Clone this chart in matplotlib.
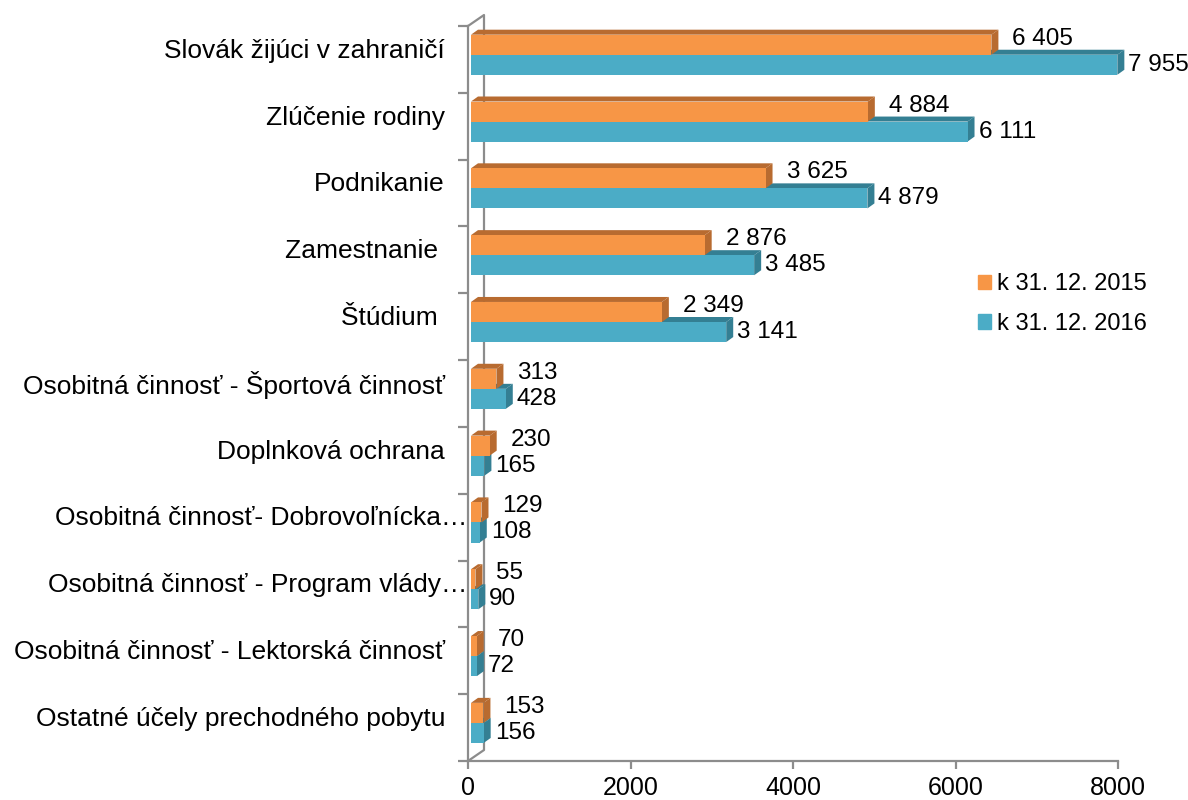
import matplotlib
matplotlib.use('Agg')
import matplotlib.pyplot as plt
from matplotlib.patches import Polygon, Patch

plt.rcParams['font.family'] = ['Liberation Sans', 'DejaVu Sans']

# chart data
categories = [
    "Slovák žijúci v zahraničí",
    "Zlúčenie rodiny",
    "Podnikanie",
    "Zamestnanie ",
    "Štúdium ",
    "Osobitná činnosť - Športová činnosť",
    "Doplnková ochrana",
    "Osobitná činnosť- Dobrovoľnícka…",
    "Osobitná činnosť - Program vlády…",
    "Osobitná činnosť - Lektorská činnosť",
    "Ostatné účely prechodného pobytu",
]
values_2015 = [6405, 4884, 3625, 2876, 2349, 313, 230, 129, 55, 70, 153]
values_2016 = [7955, 6111, 4879, 3485, 3141, 428, 165, 108, 90, 72, 156]
series_labels = ["k 31. 12. 2015", "k 31. 12. 2016"]
x_ticks = [0, 2000, 4000, 6000, 8000]

# colours (office palette)
orange, orange_dark = "#F79646", "#B86B30"
blue, blue_dark = "#4BACC6", "#347F93"
axis_gray = "#8C8C8C"

W, H = 1188, 800
fig = plt.figure(figsize=(W / 100, H / 100), dpi=100)
left, right, top, bottom = 468, 1118, 26, 761
ax = fig.add_axes([left / W, 1 - bottom / H, (right - left) / W, (bottom - top) / H])

n = len(categories)
ax.set_xlim(0, x_ticks[-1])
ax.set_ylim(n - 0.5, -0.5)

# pixel -> data conversion for the fake 3d depth
px_x = x_ticks[-1] / (right - left)
px_y = n / (bottom - top)
dx, dy = 7 * px_x, 5 * px_y
x0 = 3 * px_x   # bars sit a little behind the front axis line
bar_h = 0.30


def bar3d(yc, value, face, dark):
    y0 = yc - bar_h / 2
    y1 = yc + bar_h / 2
    end = x0 + value
    ax.add_patch(Polygon([(x0, y0), (x0 + dx, y0 - dy), (end + dx, y0 - dy), (end, y0)],
                         closed=True, facecolor=dark, edgecolor='none', zorder=2, clip_on=False))
    ax.add_patch(Polygon([(end, y0), (end + dx, y0 - dy), (end + dx, y1 - dy), (end, y1)],
                         closed=True, facecolor=dark, edgecolor='none', zorder=2, clip_on=False))
    ax.barh(yc, value, left=x0, height=bar_h, color=face, edgecolor='none', zorder=2, clip_on=False)


def fmt(v):
    return f"{v:,}".replace(",", " ")


for i, cat in enumerate(categories):
    yc_o = i - 0.22
    yc_b = i + 0.08
    bar3d(yc_b, values_2016[i], blue, blue_dark)
    bar3d(yc_o, values_2015[i], orange, orange_dark)

    ax.annotate(fmt(values_2015[i]), xy=(x0 + values_2015[i], yc_o), xytext=(21, 6),
                textcoords='offset pixels', ha='left', va='center', fontsize=17.5)
    ax.annotate(fmt(values_2016[i]), xy=(x0 + values_2016[i], yc_b), xytext=(11, 0),
                textcoords='offset pixels', ha='left', va='center', fontsize=17.5)

    off = -1 if cat.endswith("…") else -23
    ax.annotate(cat, xy=(0, i - 0.13), xytext=(off, 0), textcoords='offset pixels',
                ha='right', va='center', fontsize=19, annotation_clip=False)

# axes styling
for side in ['top', 'right']:
    ax.spines[side].set_visible(False)
for side in ['left', 'bottom']:
    ax.spines[side].set_color(axis_gray)
    ax.spines[side].set_linewidth(1.6)

ax.set_yticks([i - 0.5 for i in range(n + 1)])
ax.set_yticklabels([])
ax.tick_params(axis='y', direction='out', length=7, width=1.6, color=axis_gray)
ax.set_xticks(x_ticks)
ax.set_xticklabels([str(t) for t in x_ticks], fontsize=18)
ax.tick_params(axis='x', direction='out', length=6, width=1.6, color=axis_gray, pad=5)

# back wall lines
wx, wy = 16 * px_x, 11 * px_y
ax.plot([0, wx, wx, 0], [-0.5, -0.5 - wy, n - 0.5 - wy, n - 0.5],
        color=axis_gray, lw=1.6, zorder=1, clip_on=False)

fig.legend(handles=[Patch(color=orange), Patch(color=blue)], labels=series_labels,
           loc='center left', bbox_to_anchor=(978 / W, 1 - 304 / H), frameon=False,
           fontsize=17, handlelength=0.55, handleheight=0.55, handletextpad=0.25,
           labelspacing=0.75, borderpad=0, borderaxespad=0)

fig.savefig("out.png", dpi=100, facecolor="#FFFFFF")
plt.close(fig)
